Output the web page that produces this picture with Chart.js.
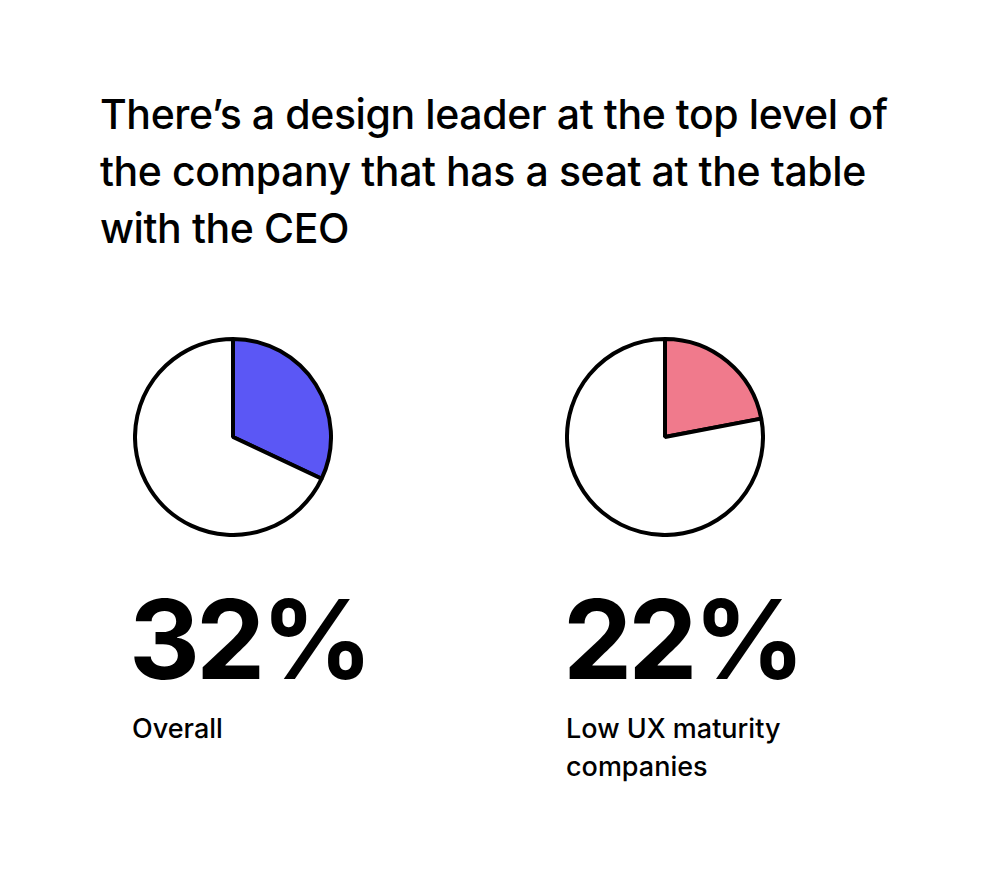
<!DOCTYPE html>
<html>
<head>
<meta charset="utf-8">
<script src="https://cdn.jsdelivr.net/npm/chart.js@4"></script>
<style>
  body { margin: 0; background: #fff; font-family: Inter, "Noto Sans", sans-serif; color: #000; }
  .page { position: relative; width: 1000px; height: 895px; }
  h1 { position: absolute; left: 100px; top: 86px; margin: 0; font-size: 41px; font-weight: 500; line-height: 57px; letter-spacing: -0.4px; width: 860px; }
  .pie { position: absolute; width: 200px; height: 200px; }
  .big { position: absolute; margin: 0; font-size: 110px; font-weight: 700; letter-spacing: -4px; line-height: 1; }
  .label { position: absolute; margin: 0; font-size: 27px; font-weight: 500; line-height: 38px; }
</style>
</head>
<body>
<div class="page">
  <h1 id="title"></h1>
  <canvas id="pie0" class="pie" style="left:133px; top:337px"></canvas>
  <canvas id="pie1" class="pie" style="left:565px; top:337px"></canvas>
  <p id="big0" class="big" style="left:129px; top:584px"></p>
  <p id="big1" class="big" style="left:563px; top:584px"></p>
  <p id="label0" class="label" style="left:132px; top:710px"></p>
  <p id="label1" class="label" style="left:566px; top:710px; width:260px"></p>
</div>
<script>
const titleLines = [
  "There\u2019s a design leader at the top level of",
  "the company that has a seat at the table",
  "with the CEO",
];
const groups = ["Overall", "Low UX maturity companies"];
const shares = [32, 22];
const fills = ["#5b57f5", "#f07a8c"];

document.getElementById("title").innerHTML = titleLines.join("<br>");

function makePie(i) {
  const ctx = document.getElementById("pie" + i);
  return new Chart(ctx, {
    type: "pie",
    data: {
      labels: [groups[i], "Other"],
      datasets: [
        {
          data: [shares[i], 100 - shares[i]],
          backgroundColor: [fills[i], "#ffffff"],
          borderColor: "#000",
          borderWidth: 4,
        },
      ],
    },
    options: {
      responsive: false,
      animation: false,
      plugins: {
        legend: { display: false },
        tooltip: { enabled: false },
      },
    },
  });
}

groups.forEach(function (g, i) {
  makePie(i);
  document.getElementById("big" + i).textContent = shares[i] + "%";
  document.getElementById("label" + i).textContent = g;
});
</script>
</body>
</html>
